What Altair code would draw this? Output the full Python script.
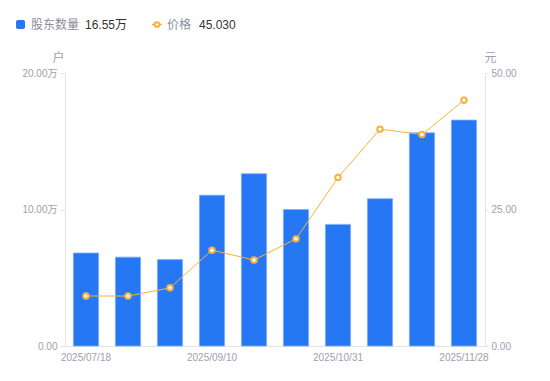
import altair as alt
import pandas as pd

dates = ["2025/07/18", "2025/07/31", "2025/08/20", "2025/09/10", "2025/09/30",
         "2025/10/20", "2025/10/31", "2025/11/10", "2025/11/20", "2025/11/28"]
holders = [6.81, 6.51, 6.33, 11.05, 12.62, 10.00, 8.91, 10.79, 15.62, 16.55]  # 万户
price = [9.16, 9.15, 10.65, 17.55, 15.75, 19.62, 30.85, 39.72, 38.72, 45.03]
shown_dates = ["2025/07/18", "2025/09/10", "2025/10/31", "2025/11/28"]
left_ticks = [0, 10, 20]
right_ticks = [0, 25, 50]

FONT = "Liberation Sans, Noto Sans CJK SC, sans-serif"
BLUE = "#2677f3"
ORANGE = "#f7b23b"
GRAY = "#9ea0ad"
AXISC = "#e3e3e8"

df = pd.DataFrame({"date": dates, "holders": holders, "price": price})

x = alt.X("date:N", sort=None, title=None,
          scale=alt.Scale(paddingInner=0.4, paddingOuter=0.2),
          axis=alt.Axis(values=shown_dates, labelAngle=0, ticks=False, labelPadding=6,
                        labelFontSize=10, labelColor=GRAY, labelFont=FONT,
                        domainColor=AXISC, grid=False))

bars = alt.Chart(df).mark_bar(color=BLUE, stroke="#7fadf7", strokeWidth=0.8).encode(
    x=x,
    y=alt.Y("holders:Q", title="户", scale=alt.Scale(domain=[0, 20], nice=False),
            axis=alt.Axis(orient="left", values=left_ticks,
                          labelExpr="datum.value == 0 ? '0.00' : format(datum.value, '.2f') + '万'",
                          labelFontSize=10, labelColor=GRAY, labelFont=FONT,
                          tickSize=5, tickColor=AXISC, domainColor=AXISC, labelPadding=3,
                          grid=False, titleAngle=0, titleX=-7, titleY=-16,
                          titleAlign="center", titleBaseline="middle",
                          titleFontSize=12, titleFontWeight="normal", titleColor=GRAY,
                          titleFont=FONT)),
)

yp = alt.Y("price:Q", title="元", scale=alt.Scale(domain=[0, 50], nice=False),
           axis=alt.Axis(orient="right", values=right_ticks, format=".2f",
                         labelFontSize=10, labelColor=GRAY, labelFont=FONT,
                         tickSize=3, tickColor=AXISC, domainColor=AXISC, labelPadding=3,
                         grid=False, titleAngle=0, titleX=5, titleY=-16,
                         titleAlign="center", titleBaseline="middle",
                         titleFontSize=12, titleFontWeight="normal", titleColor=GRAY,
                         titleFont=FONT))

line = alt.Chart(df).mark_line(color=ORANGE, strokeWidth=1).encode(x=x, y=yp)
pts = alt.Chart(df).mark_point(shape="circle", filled=True, fill="white", stroke=ORANGE,
                               strokeWidth=2, size=30, opacity=1).encode(x=x, y=yp)

price_layer = alt.layer(line, pts)

leg = pd.DataFrame({
    "name1": ["股东数量"], "val1": [f"{holders[-1]:.2f}万"],
    "name2": ["价格"], "val2": [f"{price[-1]:.3f}"],
})
LY = -48.5
sq = alt.Chart(leg).mark_rect(color=BLUE, cornerRadius=2).encode(
    x=alt.value(-49), x2=alt.value(-40), y=alt.value(LY - 4.5), y2=alt.value(LY + 4.5))
t1 = alt.Chart(leg).mark_text(align="left", baseline="middle", fontSize=12, color="#8c8c99",
                              font=FONT).encode(x=alt.value(-34), y=alt.value(LY), text="name1:N")
t2 = alt.Chart(leg).mark_text(align="left", baseline="middle", fontSize=12, color="#333333",
                              font=FONT).encode(x=alt.value(20), y=alt.value(LY), text="val1:N")
lr = alt.Chart(leg).mark_rule(color=ORANGE, strokeWidth=1.5).encode(
    x=alt.value(87), x2=alt.value(97), y=alt.value(LY))
lp = alt.Chart(leg).mark_point(shape="circle", filled=True, fill="white", stroke=ORANGE,
                               strokeWidth=2, size=22, opacity=1).encode(
    x=alt.value(92), y=alt.value(LY))
t3 = alt.Chart(leg).mark_text(align="left", baseline="middle", fontSize=12, color="#8c8c99",
                              font=FONT).encode(x=alt.value(102), y=alt.value(LY), text="name2:N")
t4 = alt.Chart(leg).mark_text(align="left", baseline="middle", fontSize=12, color="#333333",
                              font=FONT).encode(x=alt.value(134), y=alt.value(LY), text="val2:N")

chart = alt.layer(bars, price_layer, sq, t1, t2, lr, lp, t3, t4).resolve_scale(
    y="independent"
).properties(
    width=420, height=273,
    autosize=alt.AutoSizeParams(type="none"),
    padding={"left": 57, "top": 65, "right": 57, "bottom": 27},
).configure_view(stroke=None)

chart.save("out.html", embed_options={"renderer": "svg", "actions": False})
